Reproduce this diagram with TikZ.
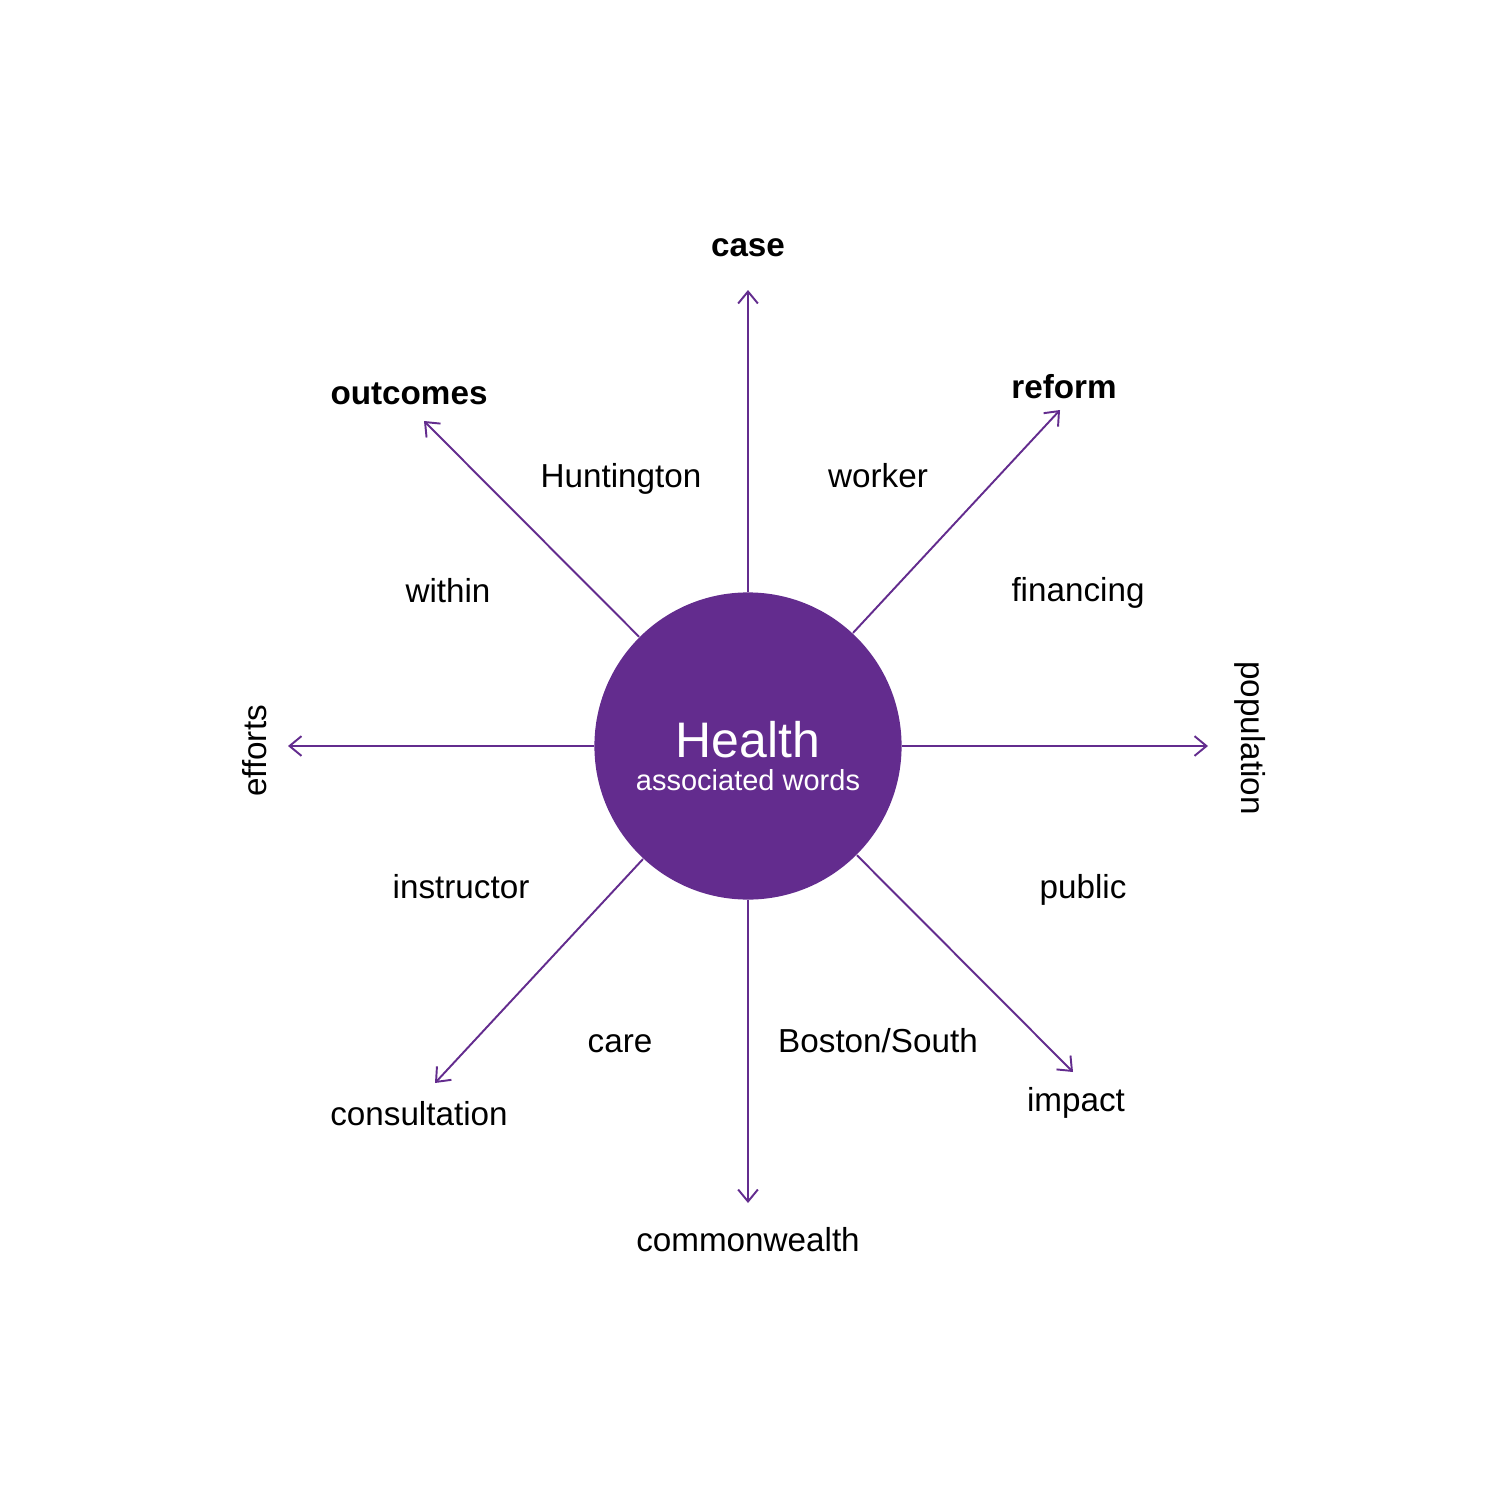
\documentclass[tikz,border=0pt]{standalone}
\usepackage{fontspec}
\setmainfont{Liberation Sans}
\usetikzlibrary{arrows.meta}
\definecolor{hpurple}{HTML}{632C8E}
\begin{document}
\begin{tikzpicture}[x=0.01cm,y=-0.01cm,
  word/.style={font=\fontsize{9.45pt}{11pt}\selectfont, anchor=base, inner sep=0pt},
  bword/.style={word, font=\fontsize{9.45pt}{11pt}\selectfont\bfseries},
  spoke/.style={draw=hpurple, line width=0.55pt, -{Straight Barb[length=3.4pt,width=5.6pt,line width=0.55pt]}}]
\useasboundingbox (0,0) rectangle (1500,1500);
\node[circle, fill=hpurple, inner sep=0pt, minimum size=3.07cm] (c) at (748,746) {};
\node[anchor=base, text=white, inner sep=0pt, font=\fontsize{14.2pt}{16pt}\selectfont] (title) at (748,757) {Health};
\node[anchor=base, text=white, inner sep=0pt, font=\fontsize{8.25pt}{10pt}\selectfont] (sub) at (748,790) {associated words};
\coordinate (eN) at (748,290);
\coordinate (eS) at (748,1203);
\coordinate (eW) at (288,746);
\coordinate (eE) at (1208,746);
\coordinate (eNW) at (424,421);
\coordinate (eNE) at (1060,410);
\coordinate (eSW) at (435,1083);
\coordinate (eSE) at (1073,1072);
\foreach \e in {eN,eS,eW,eE,eNW,eNE,eSW,eSE} \draw[spoke] (c) -- (\e);
\node[bword] (case) at (748,257) {case};
\node[bword] (outcomes) at (409,404) {outcomes};
\node[bword] (reform) at (1064,398) {reform};
\node[word] (huntington) at (621,487) {Huntington};
\node[word] (worker) at (878,487) {worker};
\node[word] (within) at (448,602) {within};
\node[word] (financing) at (1078,601) {financing};
\node[word, rotate=90] (efforts) at (266,751) {efforts};
\node[word, rotate=-90] (population) at (1241,738) {population};
\node[word] (instructor) at (461,898) {instructor};
\node[word] (public) at (1083,898) {public};
\node[word] (care) at (620,1052) {care};
\node[word] (boston) at (878,1052) {Boston/South};
\node[word] (consultation) at (419,1125) {consultation};
\node[word] (impact) at (1076,1111) {impact};
\node[word] (commonwealth) at (748,1251) {commonwealth};
\end{tikzpicture}
\end{document}
